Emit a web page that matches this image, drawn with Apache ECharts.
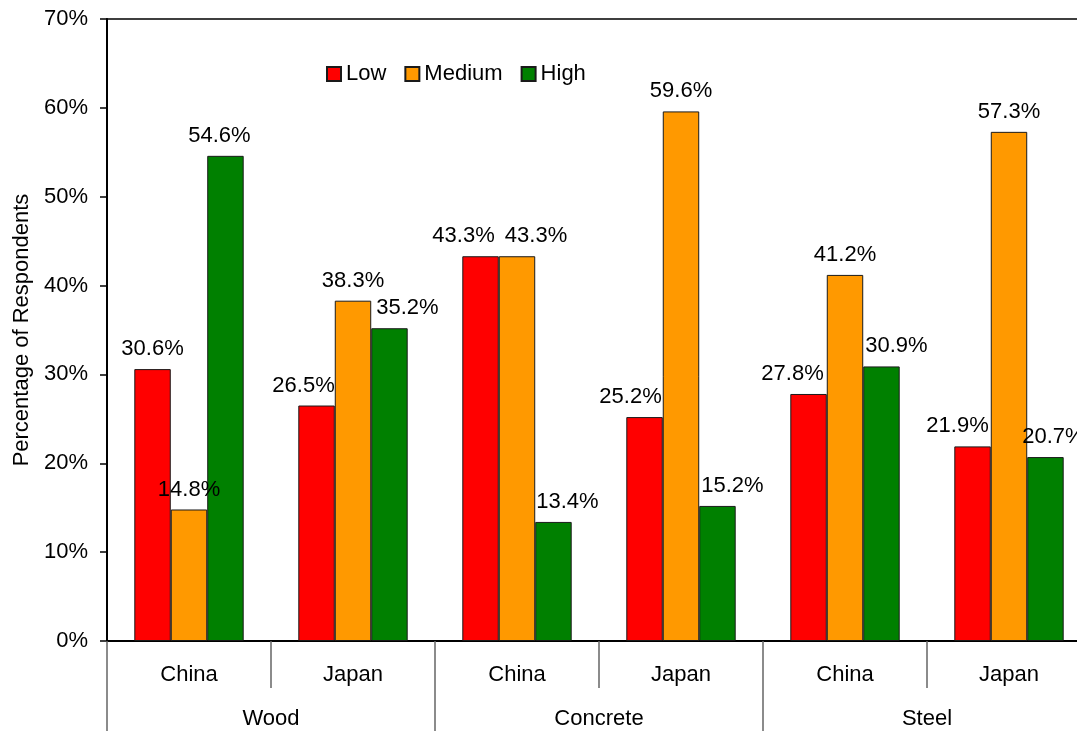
<!DOCTYPE html>
<html>
<head>
<meta charset="utf-8">
<script src="https://cdn.jsdelivr.net/npm/echarts@6/dist/echarts.min.js"></script>
<style>
html,body{margin:0;padding:0;background:#fff;overflow:hidden;width:1077px;height:731px;}
#chart{width:1093px;height:731px;}
</style>
</head>
<body>
<div id="chart"></div>
<script>
// ---- data ----
var countries = ['China', 'Japan', 'China', 'Japan', 'China', 'Japan'];
var materials = ['Wood', 'Concrete', 'Steel'];
var seriesNames = ['Low', 'Medium', 'High'];
var lowValues = [30.6, 26.5, 43.3, 25.2, 27.8, 21.9];
var mediumValues = [14.8, 38.3, 43.3, 59.6, 41.2, 57.3];
var highValues = [54.6, 35.2, 13.4, 15.2, 30.9, 20.7];
var yTicks = [0, 10, 20, 30, 40, 50, 60, 70];

// ---- label horizontal nudges (style, not data) ----
var lowShift = [0, -13, -17, -14, -16, -15];
var mediumShift = [0, 0, 19, 0, 0, 0];
var highShift = [-6, 18, 14, 15, 15, 8];

var FONT = '"Liberation Sans", Arial, sans-serif';
var colors = ['#FF0000', '#FF9900', '#008000'];

function makeData(vals, shifts) {
  return vals.map(function (v, i) {
    return { value: v, label: { offset: [shifts[i], 0] } };
  });
}

function makeSeries(name, vals, shifts, color) {
  return {
    name: name,
    type: 'bar',
    xAxisIndex: 0,
    barGap: '0%',
    barCategoryGap: '33.3%',
    itemStyle: { color: color, borderColor: '#1a1a1a', borderWidth: 1 },
    label: {
      show: true,
      position: 'top',
      distance: 9,
      color: '#000',
      fontFamily: FONT,
      fontSize: 22,
      formatter: function (p) { return p.value.toFixed(1) + '%'; }
    },
    data: makeData(vals, shifts)
  };
}

var chart = echarts.init(document.getElementById('chart'), null, { renderer: 'canvas' });
chart.setOption({
  backgroundColor: '#fff',
  animation: false,
  textStyle: { fontFamily: FONT },
  color: colors,
  grid: {
    left: 107, top: 19, width: 984, height: 622,
    show: true, borderColor: '#000', borderWidth: 1.5, backgroundColor: 'transparent',
    containLabel: false
  },
  legend: {
    data: seriesNames,
    left: 326,
    top: 63,
    padding: 0,
    itemWidth: 14,
    itemHeight: 14,
    itemGap: 18,
    icon: 'rect',
    textStyle: { fontFamily: FONT, fontSize: 22, color: '#000', padding: [0, 0, 0, 0] }
  },
  xAxis: [
    {
      type: 'category',
      data: countries,
      position: 'bottom',
      axisLine: { show: true, lineStyle: { color: '#000', width: 2 } },
      axisTick: { show: true, interval: 0, length: 47, lineStyle: { color: '#666', width: 1.5 } },
      axisLabel: { interval: 0, margin: 23, color: '#000', fontFamily: FONT, fontSize: 22 },
      splitLine: { show: false }
    },
    {
      type: 'category',
      data: materials,
      position: 'bottom',
      offset: 0,
      axisLine: { show: false },
      axisTick: { show: true, interval: 0, length: 95, lineStyle: { color: '#666', width: 1.5 } },
      axisLabel: { interval: 0, margin: 67, color: '#000', fontFamily: FONT, fontSize: 22 },
      splitLine: { show: false }
    }
  ],
  yAxis: {
    type: 'value',
    min: yTicks[0],
    max: yTicks[yTicks.length - 1],
    interval: yTicks[1] - yTicks[0],
    name: 'Percentage of Respondents',
    nameLocation: 'middle',
    nameGap: 74,
    nameRotate: 90,
    nameTextStyle: { fontFamily: FONT, fontSize: 22, color: '#000' },
    axisLine: { show: true, lineStyle: { color: '#000', width: 2 } },
    axisTick: { show: true, inside: false, length: 7, lineStyle: { color: '#000', width: 1.5 } },
    axisLabel: { margin: 19, color: '#000', fontFamily: FONT, fontSize: 22, formatter: '{value}%' },
    splitLine: { show: false }
  },
  series: [
    makeSeries(seriesNames[0], lowValues, lowShift, colors[0]),
    makeSeries(seriesNames[1], mediumValues, mediumShift, colors[1]),
    makeSeries(seriesNames[2], highValues, highShift, colors[2])
  ]
});
</script>
</body>
</html>
